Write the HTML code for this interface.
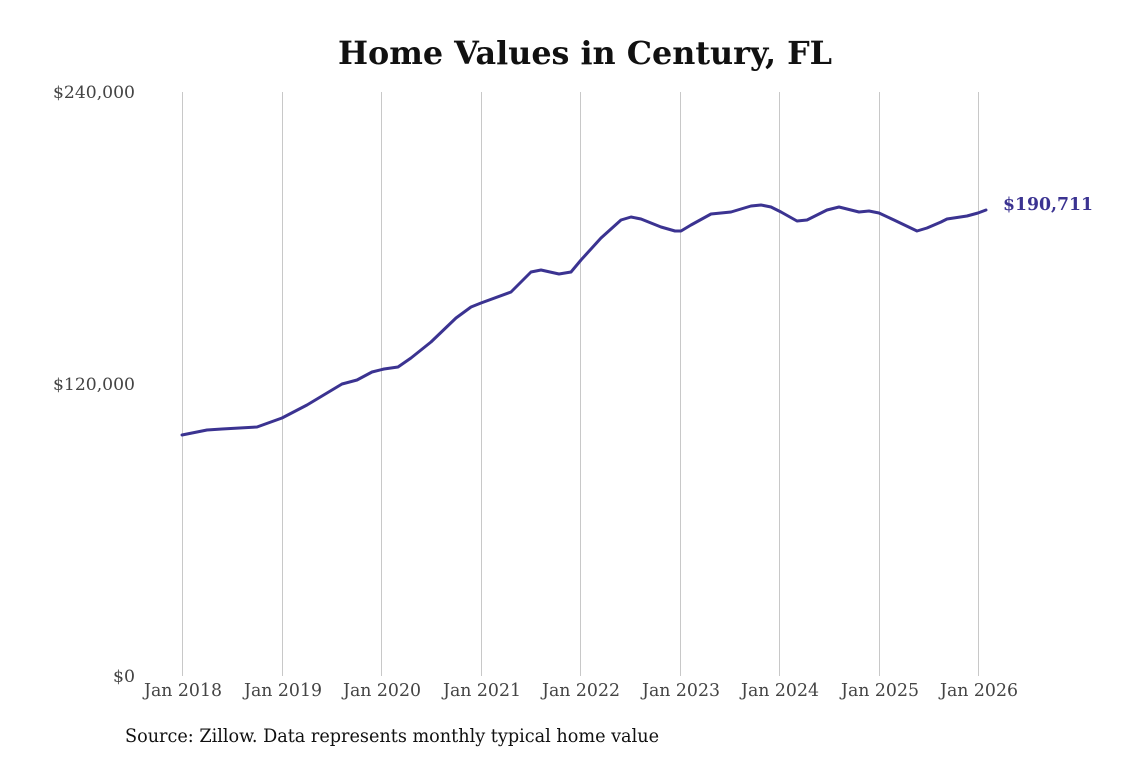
<!DOCTYPE html>
<html><head><meta charset="utf-8"><style>
html,body{margin:0;padding:0;background:#fff;}
svg{display:block;}
.c{font-family:"DejaVu Serif Condensed","DejaVu Serif",serif;font-stretch:condensed;}
</style></head><body>
<svg width="1140" height="759" xmlns="http://www.w3.org/2000/svg">
<rect width="1140" height="759" fill="#fff"/>
<text class="c" x="338" y="64" textLength="494" lengthAdjust="spacingAndGlyphs" font-weight="bold" font-size="32" fill="#111">Home Values in Century, FL</text>
<g stroke="#c8c8c8" stroke-width="1">
<line x1="182.5" y1="92" x2="182.5" y2="676"/>
<line x1="282.5" y1="92" x2="282.5" y2="676"/>
<line x1="381.5" y1="92" x2="381.5" y2="676"/>
<line x1="481.5" y1="92" x2="481.5" y2="676"/>
<line x1="580.5" y1="92" x2="580.5" y2="676"/>
<line x1="680.5" y1="92" x2="680.5" y2="676"/>
<line x1="779.5" y1="92" x2="779.5" y2="676"/>
<line x1="879.5" y1="92" x2="879.5" y2="676"/>
<line x1="978.5" y1="92" x2="978.5" y2="676"/>
</g>
<g class="c" font-size="17" fill="#444">
<text x="53" y="98" textLength="82" lengthAdjust="spacingAndGlyphs">$240,000</text>
<text x="53" y="390" textLength="82" lengthAdjust="spacingAndGlyphs">$120,000</text>
<text x="113" y="682" textLength="22" lengthAdjust="spacingAndGlyphs">$0</text>
</g>
<g class="c" font-size="18" fill="#444">
<text x="144" y="696" textLength="78" lengthAdjust="spacingAndGlyphs">Jan 2018</text>
<text x="244" y="696" textLength="78" lengthAdjust="spacingAndGlyphs">Jan 2019</text>
<text x="343" y="696" textLength="78" lengthAdjust="spacingAndGlyphs">Jan 2020</text>
<text x="443" y="696" textLength="78" lengthAdjust="spacingAndGlyphs">Jan 2021</text>
<text x="542" y="696" textLength="78" lengthAdjust="spacingAndGlyphs">Jan 2022</text>
<text x="642" y="696" textLength="78" lengthAdjust="spacingAndGlyphs">Jan 2023</text>
<text x="741" y="696" textLength="78" lengthAdjust="spacingAndGlyphs">Jan 2024</text>
<text x="841" y="696" textLength="78" lengthAdjust="spacingAndGlyphs">Jan 2025</text>
<text x="940" y="696" textLength="78" lengthAdjust="spacingAndGlyphs">Jan 2026</text>
</g>
<polyline fill="none" stroke="#3b3391" stroke-width="3" stroke-linejoin="round" stroke-linecap="round"
points="182,435 207,430 222,429 257,427 282,418 307,405 332,390 342,384 357,380 372,372 384,369 398,367 411,358 431,342 456,318 471,307 481,303 511,292 531,272 541,270 559,274 571,272 581,260 601,238 621,220 631,217 641,219 661,227 675,231 681,231 691,225 711,214 731,212 751,206 761,205 771,207 781,212 797,221 807,220 827,210 839,207 859,212 869,211 879,213 894,220 917,231 927,228 941,222 947,219 967,216 978,213 986,210"/>
<text class="c" x="1003" y="210" textLength="90" lengthAdjust="spacingAndGlyphs" font-weight="bold" font-size="18" fill="#3b3391">$190,711</text>
<text class="c" x="125" y="742" textLength="534" lengthAdjust="spacingAndGlyphs" font-size="19" fill="#111">Source: Zillow. Data represents monthly typical home value</text>
</svg>
</body></html>
